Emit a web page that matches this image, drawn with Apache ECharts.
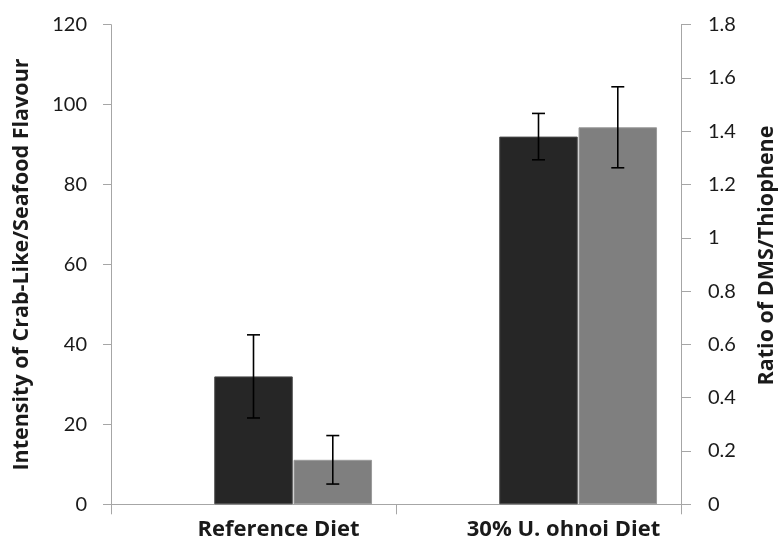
<!DOCTYPE html>
<html>
<head>
<meta charset="utf-8">
<script src="https://cdn.jsdelivr.net/npm/echarts@6/dist/echarts.min.js"></script>
<style>
  html, body { margin: 0; padding: 0; background: #fff; }
  #chart { width: 779px; height: 548px; }
</style>
</head>
<body>
<div id="chart"></div>
<script>
// Diet groups on the category axis
const categories = ['Reference Diet', '30% U. ohnoi Diet'];

// Crab-like / seafood flavour intensity (left axis), mean and error
const flavourMean = [32, 92];
const flavourErr = [10.4, 5.8];

// DMS / thiophene ratio (right axis), mean and error
const ratioMean = [0.167, 1.415];
const ratioErr = [0.091, 0.152];

// Axis ticks
const flavourTicks = { min: 0, max: 120, interval: 20 };
const ratioTicks = { min: 0, max: 1.8, interval: 0.2 };

const FONT = 'Lato, "Open Sans", sans-serif';
const BOLD_FONT = '"Open Sans", Lato, sans-serif';
const BAR_W = 78.5;
const AXIS_GREY = '#a6a6a6';
const TEXT = '#1a1a1a';

function errorSeries(name, yAxisIndex, means, errs, shift) {
  return {
    name: name,
    type: 'custom',
    xAxisIndex: 0,
    yAxisIndex: yAxisIndex,
    silent: true,
    z: 10,
    data: means.map((m, i) => [i, m - errs[i], m + errs[i]]),
    encode: { x: 0, y: [1, 2] },
    renderItem: function (params, api) {
      const lo = api.coord([api.value(0), api.value(1)]);
      const hi = api.coord([api.value(0), api.value(2)]);
      const x = lo[0] + shift;
      const cap = 6.5;
      const style = { stroke: '#000', lineWidth: 1.6 };
      return {
        type: 'group',
        children: [
          { type: 'line', shape: { x1: x, y1: lo[1], x2: x, y2: hi[1] }, style: style },
          { type: 'line', shape: { x1: x - cap, y1: lo[1], x2: x + cap, y2: lo[1] }, style: style },
          { type: 'line', shape: { x1: x - cap, y1: hi[1], x2: x + cap, y2: hi[1] }, style: style }
        ]
      };
    }
  };
}

const chart = echarts.init(document.getElementById('chart'), null, { renderer: 'canvas' });

chart.setOption({
  animation: false,
  backgroundColor: '#ffffff',
  textStyle: { fontFamily: FONT },
  grid: {
    left: 111, right: 98, top: 24.7, bottom: 43.7,
    containLabel: false,
    outerBoundsMode: 'none'
  },
  xAxis: {
    type: 'category',
    data: categories,
    axisLine: { show: true, lineStyle: { color: AXIS_GREY, width: 1 } },
    axisTick: { show: true, length: 10, lineStyle: { color: AXIS_GREY } },
    axisLabel: {
      color: TEXT, fontFamily: BOLD_FONT, fontSize: 22, fontWeight: 'bold', margin: 14,
      // labels sit under the pair of bars rather than the category centre
      padding: [0, 0, 0, 50]
    },
    splitLine: { show: false }
  },
  yAxis: [
    {
      type: 'value',
      position: 'left',
      min: flavourTicks.min, max: flavourTicks.max, interval: flavourTicks.interval,
      name: 'Intensity of Crab-Like/Seafood Flavour',
      nameLocation: 'middle',
      nameGap: 78,
      nameRotate: 90,
      nameTextStyle: { color: TEXT, fontFamily: BOLD_FONT, fontSize: 21.5, fontWeight: 'bold' },
      axisLine: { show: true, lineStyle: { color: AXIS_GREY, width: 1 } },
      axisTick: { show: true, inside: false, length: 8, lineStyle: { color: AXIS_GREY } },
      axisLabel: { color: TEXT, fontFamily: FONT, fontSize: 20, margin: 24 },
      splitLine: { show: false }
    },
    {
      type: 'value',
      position: 'right',
      min: ratioTicks.min, max: ratioTicks.max, interval: ratioTicks.interval,
      name: 'Ratio of DMS/Thiophene',
      nameLocation: 'middle',
      nameGap: 75,
      nameRotate: 90,
      nameTextStyle: {
        color: TEXT, fontFamily: BOLD_FONT, fontSize: 21.5, fontWeight: 'bold',
        padding: [0, 0, 0, 18]
      },
      axisLine: { show: true, lineStyle: { color: AXIS_GREY, width: 1 } },
      axisTick: { show: true, inside: false, length: 10, lineStyle: { color: AXIS_GREY } },
      axisLabel: {
        color: TEXT, fontFamily: FONT, fontSize: 20, margin: 27,
        formatter: v => String(Math.round(v * 10) / 10)
      },
      splitLine: { show: false }
    }
  ],
  series: [
    {
      // empty slot that keeps the two drawn bars right of the category centre
      name: 'spacer',
      type: 'bar',
      yAxisIndex: 0,
      barWidth: BAR_W,
      barGap: '1%',
      silent: true,
      data: categories.map(() => null)
    },
    {
      name: 'Crab-like flavour',
      type: 'bar',
      yAxisIndex: 0,
      barWidth: BAR_W,
      barGap: '1%',
      itemStyle: { color: '#262626', borderColor: '#4a4a4a', borderWidth: 1 },
      data: flavourMean
    },
    {
      name: 'DMS/Thiophene',
      type: 'bar',
      yAxisIndex: 1,
      barWidth: BAR_W,
      barGap: '1%',
      itemStyle: { color: '#7f7f7f', borderColor: '#9a9a9a', borderWidth: 1 },
      data: ratioMean
    },
    errorSeries('Crab-like flavour error', 0, flavourMean, flavourErr, 0),
    errorSeries('DMS/Thiophene error', 1, ratioMean, ratioErr, BAR_W * 1.01)
  ]
});
</script>
</body>
</html>
